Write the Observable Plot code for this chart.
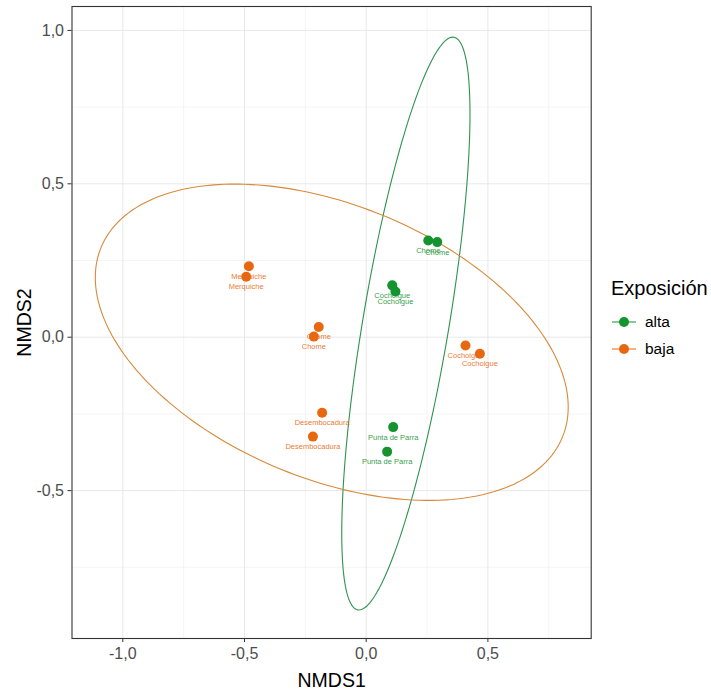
<!DOCTYPE html>
<html>
<head>
<meta charset="utf-8">
<script src="https://cdn.jsdelivr.net/npm/d3@7"></script>
<script src="https://cdn.jsdelivr.net/npm/@observablehq/plot@0.6"></script>
<style>
  body { margin: 0; background: #fff; font-family: "Liberation Sans", Arial, sans-serif; }
  #wrap { position: relative; width: 711px; height: 696px; }
  #legend { position: absolute; left: 611px; top: 277px; color: #000; }
  #legend .title { font-size: 20px; margin-bottom: 8px; }
  #legend .item { display: flex; align-items: center; height: 27px; font-size: 15.5px; }
  #legend .item svg { margin-right: 8px; }
</style>
</head>
<body>
<div id="wrap"><div id="chart"></div><div id="legend"></div></div>
<script>
// ---- data ----
const sites   = ["Merquiche","Merquiche","Chome","Chome","Desembocadura","Desembocadura","Cocholgue","Cocholgue",
                 "Chome","Chome","Cocholgue","Cocholgue","Punta de Parra","Punta de Parra"];
const exposure = ["baja","baja","baja","baja","baja","baja","baja","baja",
                  "alta","alta","alta","alta","alta","alta"];
const nmds1 = [-0.482,-0.493,-0.195,-0.215,-0.181,-0.219,0.408,0.467,
               0.255,0.292,0.107,0.120,0.111,0.086];
const nmds2 = [0.231,0.197,0.033,0.002,-0.246,-0.324,-0.027,-0.054,
               0.315,0.310,0.169,0.149,-0.293,-0.373];

const groups = ["alta","baja"];
const groupColors = ["#14932f","#e8680f"];
const ellipseColors = ["#2f9250","#d88a3a"];
// ellipse parameters (center and covariance)
const ellCx  = [0.163, -0.1415];
const ellCy  = [0.0445, -0.0165];
const ellVx  = [0.0694, 0.9438];
const ellVy  = [0.8714, 0.2657];
const ellCxy = [0.180, -0.205];

const xTicks = [-1, -0.5, 0, 0.5];
const yTicks = [-0.5, 0, 0.5, 1];
const xMinor = [-0.75, -0.25, 0.25, 0.75];
const yMinor = [-0.75, -0.25, 0.25, 0.75];

// ---- build tables ----
const points = sites.map((s, i) => ({site: s, grp: exposure[i], x: nmds1[i], y: nmds2[i]}));
const ellipse = [];
groups.forEach((g, k) => {
  const a = Math.sqrt(ellVx[k]);
  const b = ellCxy[k] / a;
  const c = Math.sqrt(ellVy[k] - b * b);
  for (let j = 0; j <= 200; j++) {
    const t = 2 * Math.PI * j / 200;
    ellipse.push({grp: g, x: ellCx[k] + a * Math.cos(t), y: ellCy[k] + b * Math.cos(t) + c * Math.sin(t)});
  }
});

const fmt = d => (d < 0 ? "-" : "") + Math.abs(d).toFixed(1).replace(".", ",");

const plot = Plot.plot({
  width: 600,
  height: 696,
  marginLeft: 71.5,
  marginRight: 9.3,
  marginTop: 6,
  marginBottom: 58,
  style: {fontFamily: "Liberation Sans, Arial, sans-serif", background: "#fff"},
  x: {domain: [-1.2087, 0.9244]},
  y: {domain: [-0.982, 1.0779]},
  color: {domain: groups, range: groupColors},
  marks: [
    Plot.gridX(xMinor, {stroke: "#f3f3f3", strokeOpacity: 1, strokeWidth: 0.8}),
    Plot.gridY(yMinor, {stroke: "#f3f3f3", strokeOpacity: 1, strokeWidth: 0.8}),
    Plot.gridX(xTicks, {stroke: "#e8e8e8", strokeOpacity: 1, strokeWidth: 1}),
    Plot.gridY(yTicks, {stroke: "#e8e8e8", strokeOpacity: 1, strokeWidth: 1}),
    Plot.line(ellipse, {x: "x", y: "y", z: "grp",
      stroke: d => ellipseColors[groups.indexOf(d.grp)], strokeWidth: 1.1, curve: "linear"}),
    Plot.dot(points, {x: "x", y: "y", fill: "grp", r: 5}),
    Plot.text(points, {x: "x", y: "y", text: "site", fill: "grp", dy: 10, fontSize: 7.5, fillOpacity: 0.9}),
    Plot.frame({stroke: "#333", strokeWidth: 1.1}),
    Plot.axisX(xTicks, {tickFormat: fmt, tickSize: 4, tickPadding: 5, fontSize: 16, color: "#4d4d4d",
      stroke: "#333", label: "NMDS1", labelAnchor: "center", labelArrow: "none", labelOffset: 48}),
    Plot.axisY(yTicks, {tickFormat: fmt, tickSize: 4, tickPadding: 4, fontSize: 16, color: "#4d4d4d",
      stroke: "#333", label: "NMDS2", labelAnchor: "center", labelArrow: "none", labelOffset: 55})
  ]
});

document.getElementById("chart").appendChild(plot);
// axis title styling
plot.querySelectorAll('[aria-label="x-axis label"] text, [aria-label="y-axis label"] text').forEach(t => {
  t.style.fontSize = "19.5px";
  t.style.fill = "#000";
});
plot.querySelectorAll('[aria-label="x-axis tick label"] text, [aria-label="y-axis tick label"] text').forEach(t => {
  t.style.fill = "#4d4d4d";
});

// legend
const legend = document.getElementById("legend");
legend.innerHTML = '<div class="title">Exposición</div>' + groups.map((g, i) =>
  `<div class="item"><svg width="26" height="14"><line x1="1" y1="7" x2="25" y2="7" stroke="${groupColors[i]}" stroke-width="1"/><circle cx="13" cy="7" r="5" fill="${groupColors[i]}"/></svg><span>${g}</span></div>`
).join("");
</script>
</body>
</html>
